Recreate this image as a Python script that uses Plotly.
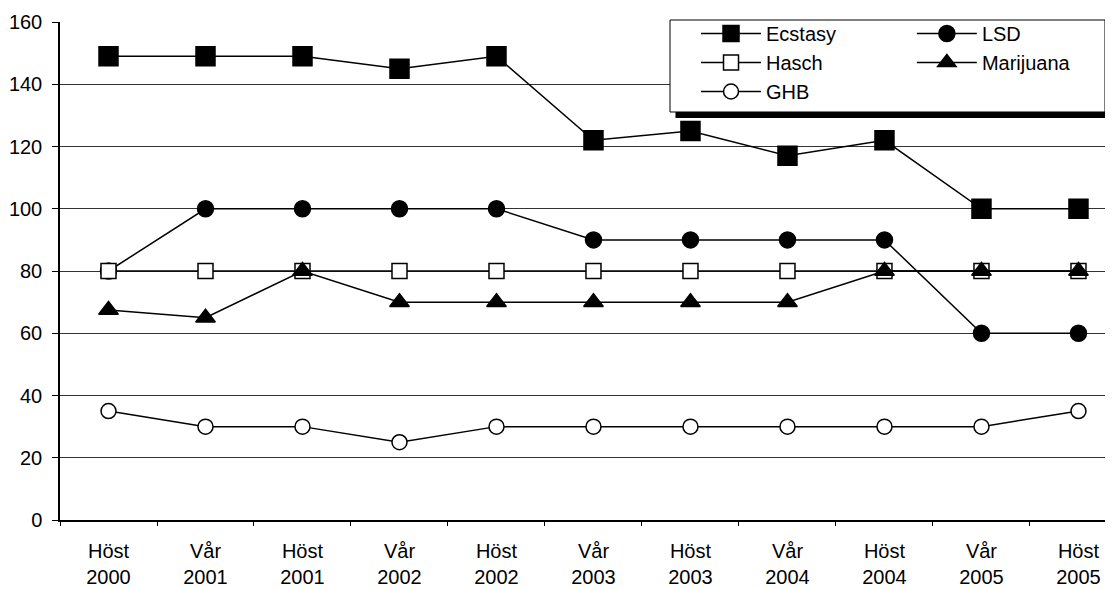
import plotly.graph_objects as go

seasons = ["Höst", "Vår", "Höst", "Vår", "Höst", "Vår", "Höst", "Vår", "Höst", "Vår", "Höst"]
years = ["2000", "2001", "2001", "2002", "2002", "2003", "2003", "2004", "2004", "2005", "2005"]

ecstasy = [149, 149, 149, 145, 149, 122, 125, 117, 122, 100, 100]
lsd = [80, 100, 100, 100, 100, 90, 90, 90, 90, 60, 60]
hasch = [80, 80, 80, 80, 80, 80, 80, 80, 80, 80, 80]
marijuana = [67.5, 65, 80, 70, 70, 70, 70, 70, 80, 80, 80]
ghb = [35, 30, 30, 25, 30, 30, 30, 30, 30, 30, 35]

idx = list(range(len(seasons)))
FONT = "Liberation Sans, Arial, sans-serif"
FS = 20

# name, values, symbol, size, fill, legend column
series = [
    ("Ecstasy", ecstasy, "square", 19, "black", "legend"),
    ("LSD", lsd, "circle", 16, "black", "legend2"),
    ("Hasch", hasch, "square", 15, "white", "legend"),
    ("Marijuana", marijuana, "triangle-up", 17, "black", "legend2"),
    ("GHB", ghb, "circle", 15, "white", "legend"),
]

fig = go.Figure()
for name, vals, sym, size, fill, leg in series:
    fig.add_trace(go.Scatter(
        x=idx, y=vals, name=name, mode="lines+markers", legend=leg,
        line=dict(color="black", width=1.5),
        marker=dict(symbol=sym, size=size, color=fill,
                    line=dict(color="black", width=1.5)),
    ))

leg_common = dict(
    orientation="v", yanchor="top", xanchor="left",
    bgcolor="rgba(0,0,0,0)", borderwidth=0,
    font=dict(family=FONT, size=FS, color="black"),
    itemwidth=60, tracegroupgap=0,
)

xr = [-0.5, 10.356]
fig.update_layout(
    width=1105, height=581,
    margin=dict(l=52, r=0, t=14, b=69, autoexpand=False),
    paper_bgcolor="white", plot_bgcolor="white",
    font=dict(family=FONT, size=FS, color="black"),
    showlegend=True,
    legend=dict(x=0.604, y=1.016, **leg_common),
    legend2=dict(x=0.809, y=1.016, **leg_common),
    xaxis=dict(
        range=xr, tickmode="array", tickvals=idx, ticktext=seasons,
        showgrid=False, zeroline=False, showline=True, linecolor="black", linewidth=1.5,
        ticks="", tickfont=dict(size=FS), ticklabelstandoff=12, automargin=False,
    ),
    xaxis2=dict(
        range=xr, overlaying="x", side="bottom", anchor="y",
        tickmode="array", tickvals=[i - 0.5 for i in idx] + [10.5], ticktext=[""] * 12,
        showgrid=False, zeroline=False, showline=False,
        ticks="outside", ticklen=5, tickcolor="black", tickwidth=1, automargin=False,
    ),
    xaxis3=dict(
        range=xr, overlaying="x", side="bottom", anchor="y",
        tickmode="array", tickvals=idx, ticktext=years,
        showgrid=False, zeroline=False, showline=False, ticks="",
        ticklabelstandoff=43, tickfont=dict(size=FS), automargin=False,
    ),
    yaxis=dict(
        range=[0, 160], tickmode="linear", tick0=0, dtick=20,
        showgrid=True, gridcolor="#333333", gridwidth=1,
        zeroline=False, showline=True, linecolor="black", linewidth=1.5,
        ticks="outside", ticklen=6, tickcolor="black", tickfont=dict(size=FS),
        ticklabelstandoff=6, automargin=False,
    ),
    shapes=[
        dict(type="rect", xref="paper", yref="paper",
             x0=0.5845, x1=0.998, y0=0.8072, y1=0.996,
             fillcolor="black", line=dict(width=0), layer="above"),
        dict(type="rect", xref="paper", yref="paper",
             x0=0.5793, x1=0.9924, y0=0.8193, y1=1.004,
             fillcolor="white", line=dict(color="black", width=1), layer="above"),
    ],
)
fig.add_trace(go.Scatter(x=[None], y=[None], xaxis="x2", showlegend=False, hoverinfo="skip"))
fig.add_trace(go.Scatter(x=[None], y=[None], xaxis="x3", showlegend=False, hoverinfo="skip"))

fig.write_html("out.html")
